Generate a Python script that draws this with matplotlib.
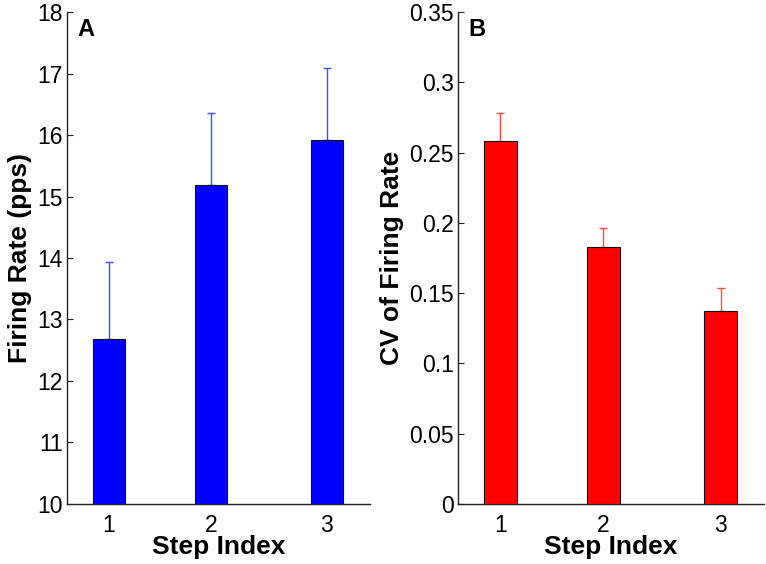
import matplotlib
matplotlib.use("Agg")
import matplotlib.pyplot as plt

plt.rcParams['font.family'] = ['Liberation Sans', 'DejaVu Sans']

steps = ["1", "2", "3"]
rate_mean = [12.69, 15.19, 15.92]
rate_err = [1.24, 1.16, 1.17]
cv_mean = [0.258, 0.183, 0.137]
cv_err = [0.020, 0.013, 0.017]

# layout (horizontal placement of bars, matching the reference)
pos = [1.0, 2.0, 3.137]
xlim = (0.588, 3.56)
bw = 0.314

fig = plt.figure(figsize=(7.66, 5.64), dpi=100)
axA = fig.add_axes([0.0875, 0.1064, 0.3955, 0.8723])
axB = fig.add_axes([0.598, 0.1064, 0.3995, 0.8723])

def style(ax):
    for s in ['top', 'right']:
        ax.spines[s].set_visible(False)
    for s in ['left', 'bottom']:
        ax.spines[s].set_color('#222222')
        ax.spines[s].set_linewidth(1.0)
    ax.tick_params(axis='y', direction='in', length=4, labelsize=16.5, pad=3, colors='#222222', labelcolor='black')
    ax.tick_params(axis='x', length=0, labelsize=16.5, pad=7)
    ax.set_xlim(*xlim)
    ax.set_xticks(pos)
    ax.set_xticklabels(steps)
    ax.set_xlabel("Step Index", fontsize=19, fontweight='bold', labelpad=-1)

axA.bar(pos, rate_mean, width=bw, bottom=0, color='#0000ff', edgecolor='#111111', linewidth=0.8, zorder=3)
axA.errorbar(pos, rate_mean, yerr=[[0, 0, 0], rate_err], fmt='none', ecolor='#4a4aff',
             elinewidth=1.0, capsize=3, capthick=1.0, zorder=2)
axA.set_ylim(10, 18)
axA.set_yticks(range(10, 19))
style(axA)
axA.set_ylabel("Firing Rate (pps)", fontsize=19, fontweight='bold', labelpad=4)
axA.text(0.033, 0.988, "A", transform=axA.transAxes, fontsize=17, fontweight='bold', va='top', ha='left')

axB.bar(pos, cv_mean, width=bw, color='#ff0000', edgecolor='#111111', linewidth=0.8, zorder=3)
axB.errorbar(pos, cv_mean, yerr=[[0, 0, 0], cv_err], fmt='none', ecolor='#ff4a4a',
             elinewidth=1.0, capsize=3, capthick=1.0, zorder=2)
axB.set_ylim(0, 0.35)
axB.set_yticks([0, 0.05, 0.1, 0.15, 0.2, 0.25, 0.3, 0.35])
axB.set_yticklabels(["0", "0.05", "0.1", "0.15", "0.2", "0.25", "0.3", "0.35"])
style(axB)
axB.set_ylabel("CV of Firing Rate", fontsize=19, fontweight='bold', labelpad=4)
axB.text(0.033, 0.988, "B", transform=axB.transAxes, fontsize=17, fontweight='bold', va='top', ha='left')

fig.savefig("out.png", dpi=100)
